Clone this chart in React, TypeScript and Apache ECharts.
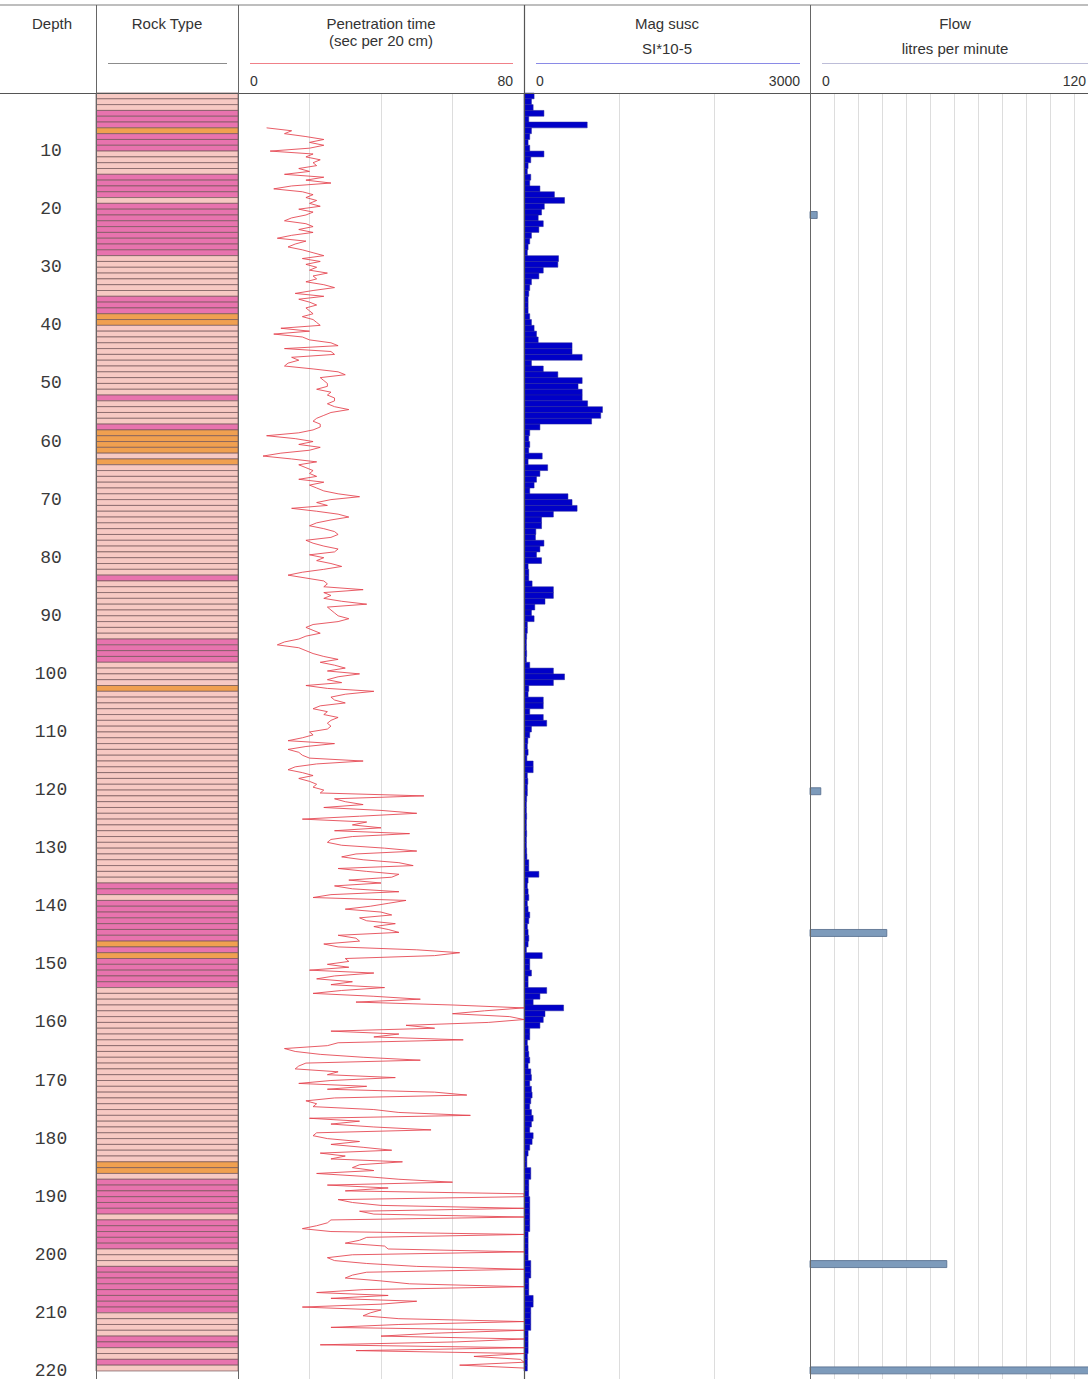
import React, { useEffect, useRef } from "react";
import * as echarts from "echarts";

const DEPTH_MIN = 0;
const DEPTH_MAX = 225;

// Rock type runs: a run starts at rockTop[i] (m) and lasts until the next run's top
const rockTop = [0, 3, 6, 7, 10, 14, 18, 19, 28, 35, 38, 40, 52, 53, 57, 58, 62, 63, 64, 83, 84, 94, 98, 102, 103, 136, 138, 139, 146, 147, 148, 149, 154, 184, 186, 187, 193, 194, 199, 202, 210, 214, 216, 218, 219];
const rockKind = ["L", "M", "O", "M", "L", "M", "L", "M", "L", "M", "O", "L", "M", "L", "M", "O", "L", "O", "L", "M", "L", "M", "L", "O", "L", "M", "L", "M", "O", "M", "O", "M", "L", "O", "L", "M", "L", "M", "L", "M", "L", "M", "L", "M", "L"];
const rockBase = 220;

// Magnetic susceptibility (SI*10-5), one value per metre from 0 m
const magSusc = [
  106, 78, 96, 209, 50, 663, 78, 60, 43, 60,
  209, 71, 43, 35, 71, 60, 167, 319, 425, 213,
  184, 149, 202, 156, 78, 60, 43, 35, 362, 355,
  202, 156, 78, 60, 50, 43, 43, 43, 60, 78,
  106, 131, 149, 504, 504, 610, 78, 202, 355, 610,
  567, 610, 610, 667, 823, 805, 709, 167, 60, 50,
  60, 50, 191, 43, 248, 167, 131, 106, 60, 461,
  504, 557, 308, 184, 184, 124, 120, 209, 167, 131,
  184, 43, 50, 50, 85, 308, 308, 220, 113, 78,
  106, 35, 35, 28, 25, 25, 28, 25, 60, 308,
  425, 308, 50, 43, 202, 202, 60, 202, 238, 78,
  60, 40, 35, 43, 30, 96, 96, 35, 40, 35,
  35, 28, 25, 25, 28, 25, 25, 28, 25, 25,
  28, 30, 50, 50, 156, 43, 35, 43, 50, 35,
  43, 60, 50, 35, 43, 50, 43, 25, 191, 60,
  60, 78, 43, 43, 238, 167, 96, 415, 220, 202,
  167, 60, 60, 35, 43, 50, 60, 43, 71, 78,
  60, 78, 85, 71, 60, 78, 96, 78, 60, 96,
  85, 60, 43, 30, 30, 71, 71, 50, 50, 50,
  60, 60, 60, 60, 60, 60, 43, 43, 43, 43,
  43, 71, 71, 71, 50, 50, 50, 96, 96, 71,
  71, 71, 71, 43, 43, 43, 43, 35, 35, 35,
];

// Penetration time (sec per 20 cm), every 0.5 m from 6 m
const penStart = 6;
const penStep = 0.5;
const penetration = [
  8, 15, 13, 19, 24, 20, 24, 20, 9, 21, 19, 23, 21, 22, 17, 20, 13, 24, 19, 26,
  15, 10, 18, 21, 19, 22, 20, 23, 17, 21, 19, 15, 13, 19, 21, 17, 21, 15, 11, 19,
  16, 14, 18, 21, 24, 18, 23, 19, 22, 20, 25, 21, 22, 19, 24, 27, 21, 16, 24, 17,
  20, 22, 19, 20, 21, 18, 21, 22, 23, 12, 20, 10, 18, 20, 26, 28, 13, 26, 27, 15,
  17, 14, 13, 21, 28, 30, 23, 24, 25, 25, 22, 26, 25, 27, 27, 25, 27, 31, 26, 24,
  22, 21, 23, 23, 21, 17, 8, 16, 21, 17, 23, 20, 12, 7, 15, 22, 17, 19, 21, 20,
  22, 17, 24, 20, 22, 24, 28, 34, 26, 22, 25, 15, 22, 28, 31, 26, 22, 20, 24, 27,
  28, 26, 19, 21, 24, 28, 27, 20, 24, 22, 26, 29, 24, 18, 14, 19, 24, 25, 24, 35,
  24, 26, 24, 29, 36, 25, 26, 27, 28, 31, 28, 21, 19, 21, 23, 19, 17, 13, 11, 17,
  19, 21, 24, 28, 23, 27, 30, 25, 34, 28, 25, 29, 19, 25, 38, 30, 26, 27, 30, 23,
  21, 25, 24, 28, 26, 25, 26, 25, 20, 21, 18, 14, 27, 19, 14, 17, 18, 20, 35, 22,
  16, 14, 18, 21, 17, 20, 22, 21, 24, 23, 52, 27, 30, 35, 24, 40, 50, 34, 18, 36,
  32, 40, 27, 48, 32, 26, 25, 29, 41, 50, 33, 29, 35, 45, 49, 28, 36, 45, 43, 31,
  40, 27, 32, 45, 26, 21, 47, 42, 37, 30, 40, 43, 34, 36, 44, 38, 42, 45, 28, 33,
  34, 24, 28, 50, 62, 55, 30, 31, 25, 31, 20, 38, 27, 22, 32, 26, 41, 29, 21, 38,
  51, 33, 60, 80, 69, 60, 76, 80, 70, 47, 55, 26, 45, 38, 63, 28, 25, 13, 16, 23,
  35, 51, 19, 17, 16, 28, 25, 44, 26, 17, 36, 25, 55, 64, 27, 19, 22, 21, 38, 45,
  65, 20, 34, 26, 38, 54, 22, 21, 25, 34, 26, 35, 43, 23, 30, 26, 46, 34, 32, 38,
  22, 35, 45, 60, 25, 42, 30, 80, 80, 28, 32, 40, 80, 34, 38, 80, 26, 25, 22, 18,
  26, 80, 36, 34, 30, 41, 42, 80, 32, 25, 27, 36, 50, 80, 36, 32, 30, 40, 48, 80,
  35, 22, 42, 26, 50, 40, 18, 40, 37, 35, 45, 80, 45, 26, 80, 55, 40, 80, 61, 23,
  80, 33, 80, 66, 79, 80, 62, 80,
];

// Flow (litres per minute)
const flowDepth = [21, 120.2, 144.6, 201.6, 219.9];
const flowValue = [3, 4.5, 32, 57, 120];

const rockColors: Record<string, string> = { L: "#f7c9c3", M: "#e873ae", O: "#f0a050" };
const rockKinds = ["L", "M", "O"];

export default function App() {
  const ref = useRef<HTMLDivElement>(null);

  useEffect(() => {
    const chart = echarts.init(ref.current as HTMLDivElement, null, { renderer: "svg" });

    const rockCells: number[][] = [];
    for (let i = 0; i < rockTop.length; i++) {
      const end = i + 1 < rockTop.length ? rockTop[i + 1] : rockBase;
      for (let d = rockTop[i]; d < end; d++) rockCells.push([0.5, d, rockKinds.indexOf(rockKind[i])]);
    }
    const magData = magSusc.map((v, i) => [v, i]);
    const penData = penetration.map((v, i) => [v, penStart + i * penStep]);
    const flowData = flowValue.map((v, i) => [v, flowDepth[i]]);

    const gridTop = 93;
    const gridH = 1307;
    const grids = [
      { left: 96, top: gridTop, width: 142, height: gridH },
      { left: 238, top: gridTop, width: 286, height: gridH },
      { left: 524, top: gridTop, width: 286, height: gridH },
      { left: 810, top: gridTop, width: 288, height: gridH },
    ];
    const split = { show: true, lineStyle: { color: "#dddddd", width: 1 } };
    const hiddenX = (gi: number, max: number, interval: number, showSplit: boolean) => ({
      type: "value",
      gridIndex: gi,
      min: 0,
      max,
      interval,
      axisLine: { show: false },
      axisTick: { show: false },
      axisLabel: { show: false },
      splitLine: showSplit ? split : { show: false },
    });
    const yAxis = [0, 1, 2, 3].map((gi) => ({
      type: "value",
      gridIndex: gi,
      min: DEPTH_MIN,
      max: DEPTH_MAX,
      interval: 10,
      inverse: true,
      axisLine: { show: false },
      axisTick: { show: false },
      splitLine: { show: false },
      axisLabel:
        gi === 0
          ? {
              show: true,
              align: "center",
              margin: 45,
              fontFamily: "Liberation Mono",
              fontSize: 18,
              color: "#3a3a3a",
              showMinLabel: false,
              showMaxLabel: false,
            }
          : { show: false },
    }));

    const headerFont = '15px "Liberation Sans", Arial, sans-serif';
    const scaleFont = '14px "Liberation Sans", Arial, sans-serif';
    const text = (t: string, x: number, y: number, align: string, font = headerFont) => ({
      type: "text",
      z: 100,
      style: { text: t, x, y, textAlign: align, textVerticalAlign: "middle", fill: "#333333", font },
    });
    const line = (x1: number, y1: number, x2: number, y2: number, stroke: string, lineWidth = 1) => ({
      type: "line",
      z: 100,
      shape: { x1, y1, x2, y2 },
      style: { stroke, lineWidth },
    });

    const graphic = [
      line(0, 5, 1100, 5, "#a8a8a8", 1.5),
      line(0, 93.5, 1100, 93.5, "#555555", 1),
      line(96.5, 5, 96.5, 1401, "#666666", 1),
      line(238.5, 5, 238.5, 1401, "#666666", 1),
      line(524.5, 5, 524.5, 1401, "#555555", 1.2),
      line(810.5, 5, 810.5, 1401, "#666666", 1),
      line(108, 63.5, 227, 63.5, "#8c8c8c", 1),
      line(250, 63.5, 513, 63.5, "#f08088", 1),
      line(536, 63.5, 800, 63.5, "#8a8ae6", 1),
      line(822, 63.5, 1088, 63.5, "#bdbdd8", 1),
      text("Depth", 52, 23, "center"),
      text("Rock Type", 167, 23, "center"),
      text("Penetration time", 381, 23, "center"),
      text("(sec per 20 cm)", 381, 40, "center"),
      text("Mag susc", 667, 23, "center"),
      text("SI*10-5", 667, 48, "center"),
      text("Flow", 955, 23, "center"),
      text("litres per minute", 955, 48, "center"),
      text("0", 250, 81, "left", scaleFont),
      text("80", 513, 81, "right", scaleFont),
      text("0", 536, 81, "left", scaleFont),
      text("3000", 800, 81, "right", scaleFont),
      text("0", 822, 81, "left", scaleFont),
      text("120", 1086, 81, "right", scaleFont),
    ];

    const option = {
      animation: false,
      backgroundColor: "#ffffff",
      grid: grids,
      xAxis: [
        hiddenX(0, 1, 1, false),
        hiddenX(1, 80, 20, true),
        hiddenX(2, 3000, 1000, true),
        hiddenX(3, 120, 10, true),
      ],
      yAxis,
      graphic,
      series: [
        {
          type: "custom",
          name: "Rock Type",
          xAxisIndex: 0,
          yAxisIndex: 0,
          data: rockCells,
          renderItem: (params: any, api: any) => {
            const d = api.value(1);
            const k = api.value(2);
            const p0 = api.coord([0, d]);
            const p1 = api.coord([1, d + 1]);
            return {
              type: "rect",
              shape: { x: p0[0], y: p0[1], width: p1[0] - p0[0], height: p1[1] - p0[1] },
              style: { fill: rockColors[rockKinds[k]], stroke: "#75585a", lineWidth: 0.7 },
            };
          },
        },
        {
          type: "line",
          name: "Penetration time",
          xAxisIndex: 1,
          yAxisIndex: 1,
          data: penData,
          showSymbol: false,
          symbol: "none",
          lineStyle: { color: "#e43f4a", width: 0.85 },
        },
        {
          type: "custom",
          name: "Mag susc",
          xAxisIndex: 2,
          yAxisIndex: 2,
          data: magData,
          renderItem: (params: any, api: any) => {
            const v = api.value(0);
            const d = api.value(1);
            const p0 = api.coord([0, d]);
            const p1 = api.coord([v, d + 1]);
            return {
              type: "rect",
              shape: { x: p0[0], y: p0[1], width: p1[0] - p0[0], height: p1[1] - p0[1] },
              style: { fill: "#0000c8", stroke: "#22229a", lineWidth: 0.5 },
            };
          },
        },
        {
          type: "custom",
          name: "Flow",
          xAxisIndex: 3,
          yAxisIndex: 3,
          data: flowData,
          renderItem: (params: any, api: any) => {
            const v = api.value(0);
            const d = api.value(1);
            const p0 = api.coord([0, d - 0.6]);
            const p1 = api.coord([v, d + 0.6]);
            return {
              type: "rect",
              shape: { x: p0[0], y: p0[1], width: p1[0] - p0[0], height: p1[1] - p0[1] },
              style: { fill: "#7d9bbb", stroke: "#52698a", lineWidth: 0.8 },
            };
          },
        },
      ],
    };

    chart.setOption(option as any);
    return () => chart.dispose();
  }, []);

  return (
    <div
      style={{
        position: "absolute",
        left: 0,
        top: 0,
        width: 1088,
        height: 1379,
        overflow: "hidden",
        background: "#ffffff",
      }}
    >
      <div ref={ref} style={{ width: 1100, height: 1401 }} />
    </div>
  );
}
